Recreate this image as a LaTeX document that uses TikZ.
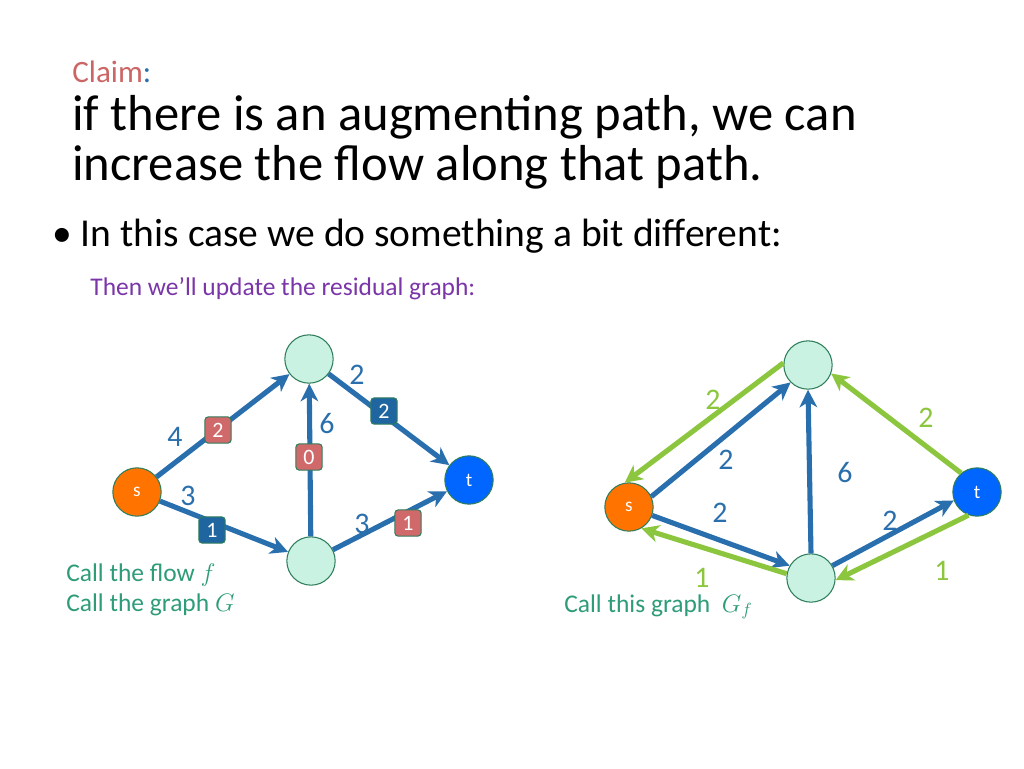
\documentclass[tikz,border=0pt]{standalone}
\usepackage{fontspec}
\setmainfont{Carlito}
\usetikzlibrary{arrows.meta}
\definecolor{edgeblue}{HTML}{2A6FAD}
\definecolor{resgreen}{HTML}{8CC63F}
\definecolor{mint}{HTML}{C9F2E2}
\definecolor{mintline}{HTML}{2E7D5B}
\definecolor{boxred}{HTML}{D06A6A}
\definecolor{boxblue}{HTML}{1F66A0}
\definecolor{capgreen}{HTML}{2E9C78}
\definecolor{claimred}{HTML}{CC6666}
\definecolor{subpurple}{HTML}{7A35A8}
\tikzset{
  vert/.style={circle, draw=mintline, fill=mint, line width=0.6pt, minimum size=27.5pt, inner sep=0pt},
  src/.style={vert, fill=orange!90!red, text=white, font=\fontsize{11}{11}\selectfont},
  snk/.style={vert, fill={rgb,255:red,0;green,102;blue,255}, text=white, font=\fontsize{11}{11}\selectfont},
  flowedge/.style={edgeblue, line width=2.9pt, -{Stealth[length=10pt,width=10pt,inset=3pt]}},
  resedge/.style={resgreen, line width=2.9pt, -{Stealth[length=10pt,width=10pt,inset=3pt]}},
  wlabel/.style={font=\fontsize{17}{17}\selectfont, edgeblue},
  rlabel/.style={font=\fontsize{17}{17}\selectfont, resgreen},
  fbox/.style={draw=mintline, rounded corners=2pt, minimum size=15pt, inner sep=1pt, text=white, font=\fontsize{12.5}{12.5}\selectfont, line width=0.6pt},
  redbox/.style={fbox, fill=boxred},
  bluebox/.style={fbox, fill=boxblue}
}
\begin{document}
\begin{tikzpicture}[x=0.02cm, y=-0.02cm]
\useasboundingbox (0,0) rectangle (1024,768);

%Titel
\node[anchor=base west, inner sep=0pt, font=\fontsize{17.7}{17.7}\selectfont] (claim) at (72,82) {\textcolor{claimred}{Claim}\textcolor{edgeblue}{:}};
\node[anchor=base west, inner sep=0pt, font=\fontsize{28.8}{28.8}\selectfont] (title1) at (72,130) {if there is an augmenting path, we can};
\node[anchor=base west, inner sep=0pt, font=\fontsize{28.8}{28.8}\selectfont] (title2) at (72,180) {increase the flow along that path.};
\node[anchor=base west, inner sep=0pt, font=\fontsize{22.5}{22.5}\selectfont] (bullet) at (52,246) {\textbullet\ In this case we do something a bit different:};
\node[anchor=base west, inner sep=0pt, subpurple, font=\fontsize{14.5}{14.5}\selectfont] (sub) at (90,295) {Then we’ll update the residual graph:};

%Graph G mit Fluss f
\node[src] (s) at (137,492) {s};
\node[vert] (a) at (309,359) {};
\node[vert] (b) at (311,561) {};
\node[snk] (t) at (469,480) {t};

\draw[flowedge] (s) -- (a);
\draw[flowedge] (s) -- (b);
\draw[flowedge] (b) -- (a);
\draw[flowedge] (a) -- (t);
\draw[flowedge] (b) -- (t);

\node[redbox] (fsa) at (218,430) {2};
\node[bluebox] (fsb) at (212,530) {1};
\node[redbox] (fba) at (309,457) {0};
\node[bluebox] (fat) at (384,411) {2};
\node[redbox] (fbt) at (408,523) {1};

\node[wlabel] at (175,437) {4};
\node[wlabel] at (188,496) {3};
\node[wlabel] at (327,424) {6};
\node[wlabel] at (357,375) {2};
\node[wlabel] at (362,524) {3};

\node[anchor=base west, inner sep=0pt, capgreen, font=\fontsize{14.5}{14.5}\selectfont] (capG1) at (66,581) {Call the flow $f$};
\node[anchor=base west, inner sep=0pt, capgreen, font=\fontsize{14.5}{14.5}\selectfont] (capG2) at (66,611) {Call the graph $G$};

%Residualgraph
\node[src] (rs) at (629,507) {s};
\node[vert] (ra) at (808,365) {};
\node[vert] (rb) at (811,578) {};
\node[snk] (rt) at (977,492) {t};

\draw[resedge] (ra.175) -- (rs.100);
\draw[flowedge] (rs.25) -- (ra.225);
\draw[flowedge] (rs.-20) -- (rb.150);
\draw[resedge] (rb.170) -- (rs.-60);
\draw[flowedge] (rb.90) -- (ra.-90);
\draw[resedge] (rt.130) -- (ra.-20);
\draw[flowedge] (rb.30) -- (rt.200);
\draw[resedge] (rt.-110) -- (rb.-5);

\node[rlabel] at (713,400) {2};
\node[wlabel] at (726,460) {2};
\node[wlabel] at (720,513) {2};
\node[rlabel] at (702,578) {1};
\node[wlabel] at (845,473) {6};
\node[rlabel] at (926,418) {2};
\node[wlabel] at (890,521) {2};
\node[rlabel] at (942,571) {1};

\node[anchor=base west, inner sep=0pt, capgreen, font=\fontsize{14.5}{14.5}\selectfont] (capGf) at (564,612) {Call this graph\ \ $G_f$};
\end{tikzpicture}
\end{document}
